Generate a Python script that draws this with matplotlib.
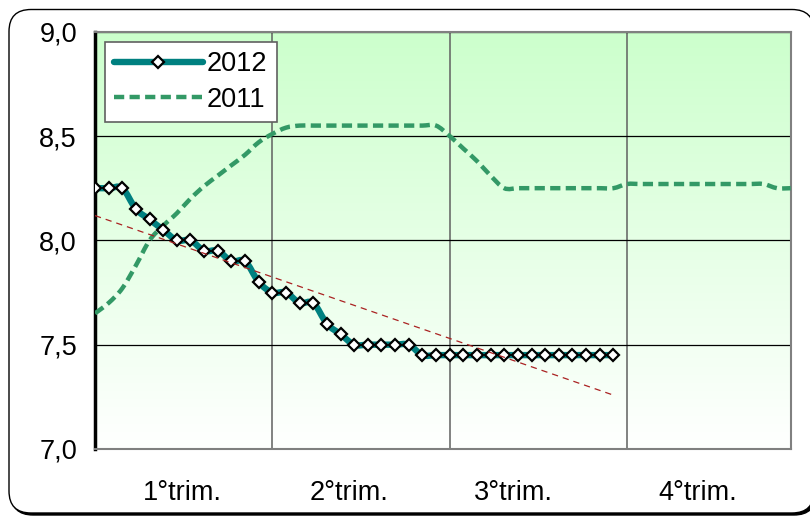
import numpy as np
import matplotlib
matplotlib.use("Agg")
import matplotlib.pyplot as plt
from matplotlib.path import Path
from matplotlib.patches import PathPatch, FancyBboxPatch
from matplotlib.lines import Line2D
from matplotlib.ticker import FuncFormatter

plt.rcParams['font.family'] = ['Liberation Sans', 'DejaVu Sans']
plt.rcParams['font.size'] = 19.5

# weekly data (week index within the year)
weeks_2012 = list(range(39))
rate_2012 = [8.25, 8.25, 8.25, 8.15, 8.10, 8.05, 8.00, 8.00, 7.95, 7.95,
             7.90, 7.90, 7.80, 7.75, 7.75, 7.70, 7.70, 7.60, 7.55, 7.50,
             7.50, 7.50, 7.50, 7.50, 7.45, 7.45, 7.45, 7.45, 7.45, 7.45,
             7.45, 7.45, 7.45, 7.45, 7.45, 7.45, 7.45, 7.45, 7.45]

weeks_2011 = list(range(52))
rate_2011 = [7.65, 7.70, 7.77, 7.88, 8.00, 8.07, 8.13, 8.20, 8.26, 8.31,
             8.36, 8.41, 8.47, 8.51, 8.54, 8.55, 8.55, 8.55, 8.55, 8.55,
             8.55, 8.55, 8.55, 8.55, 8.55, 8.55, 8.50, 8.44, 8.38, 8.31,
             8.25, 8.25, 8.25, 8.25, 8.25, 8.25, 8.25, 8.25, 8.25, 8.27,
             8.27, 8.27, 8.27, 8.27, 8.27, 8.27, 8.27, 8.27, 8.27, 8.27,
             8.25, 8.25]

quarter_labels = ["1°trim.", "2°trim.", "3°trim.", "4°trim."]
quarter_label_pos = [6.4, 18.6, 30.7, 44.2]
quarter_bounds = [13, 26, 39]


def smooth_path(x, y):
    # excel style smoothed line: bezier segments through every point
    pts = np.column_stack([x, y]).astype(float)
    n = len(pts)
    verts = [pts[0]]
    codes = [Path.MOVETO]
    for i in range(n - 1):
        p0 = pts[i - 1] if i > 0 else pts[i]
        p1 = pts[i]
        p2 = pts[i + 1]
        p3 = pts[i + 2] if i + 2 < n else pts[i + 1]
        verts += [p1 + (p2 - p0) / 6, p2 - (p3 - p1) / 6, p2]
        codes += [Path.CURVE4] * 3
    return Path(verts, codes)


fig = plt.figure(figsize=(8.1, 5.16), dpi=100)

# rounded chart border with a small shadow
shadow = FancyBboxPatch((0.11, 0.01), 8.05, 5.03,
                        boxstyle="round,pad=0,rounding_size=0.22",
                        transform=fig.dpi_scale_trans, fc='black', ec='black', lw=1)
border = FancyBboxPatch((0.09, 0.03), 8.05, 5.035,
                        boxstyle="round,pad=0,rounding_size=0.22",
                        transform=fig.dpi_scale_trans, fc='white', ec='black', lw=1)
fig.add_artist(shadow)
fig.add_artist(border)

ax = fig.add_axes([95 / 810, 1 - 449 / 516, (790.7 - 95) / 810, (449 - 31.7) / 516])
ax.set_zorder(2)

# green to white background
top = np.array([204, 255, 204]) / 255
grad = np.linspace(top, np.ones(3), 256).reshape(256, 1, 3)
ax.imshow(grad, extent=[0, 51, 7, 9], aspect='auto', zorder=0, origin='upper')

ax.add_patch(PathPatch(smooth_path(weeks_2011, rate_2011), fill=False,
                       ec='#339966', lw=3.2, linestyle=(0, (2.3, 1.2)), zorder=3))
ax.add_patch(PathPatch(smooth_path(weeks_2012, rate_2012), fill=False,
                       ec='#008080', lw=4.6, capstyle='round', zorder=4))
ax.plot(weeks_2012, rate_2012, ls='none', marker='D', ms=6.3, mfc='white',
        mec='black', mew=1.6, zorder=5)

# linear trend of 2012
k, b = np.polyfit(weeks_2012, rate_2012, 1)
xt = np.array([weeks_2012[0], weeks_2012[-1]])
ax.plot(xt, k * xt + b, color='#AA2222', lw=0.9, dashes=(5, 4), zorder=6)

ax.set_xlim(0, 51)
ax.set_ylim(7, 9)
ax.set_yticks([7.0, 7.5, 8.0, 8.5, 9.0])
ax.yaxis.set_major_formatter(FuncFormatter(lambda v, p: f"{v:.1f}".replace('.', ',')))
ax.set_xticks(quarter_label_pos, quarter_labels)
ax.set_xticks(quarter_bounds, minor=True)
ax.tick_params(axis='y', length=0, pad=13)
ax.tick_params(axis='x', which='both', length=0, pad=22)
ax.yaxis.grid(True, color='black', lw=0.9)
ax.xaxis.grid(True, which='minor', color='#606060', lw=1.1)
ax.xaxis.grid(False, which='major')
ax.set_axisbelow(True)

for side in ['top', 'right', 'bottom']:
    ax.spines[side].set_color('#808080')
    ax.spines[side].set_linewidth(1.5)
ax.spines['left'].set_color('black')
ax.spines['left'].set_linewidth(2.5)

h12 = Line2D([], [], color='#008080', lw=4.6, marker='D', ms=6.3, mfc='white',
             mec='black', mew=1.6, solid_capstyle='round')
h11 = Line2D([], [], color='#339966', lw=3.2, dashes=(2.3, 1.2))
leg = ax.legend([h12, h11], ['2012', '2011'], loc='upper left',
                bbox_to_anchor=(10 / 695.7, (449 - 41.7) / 417.3), borderaxespad=0,
                fancybox=False, framealpha=1, edgecolor='#606060', numpoints=1,
                handlelength=3.25, handletextpad=0.15, labelspacing=0.35,
                borderpad=0.35, fontsize=19.5)
leg.get_frame().set_linewidth(1.2)

fig.savefig("out.png", dpi=100)
